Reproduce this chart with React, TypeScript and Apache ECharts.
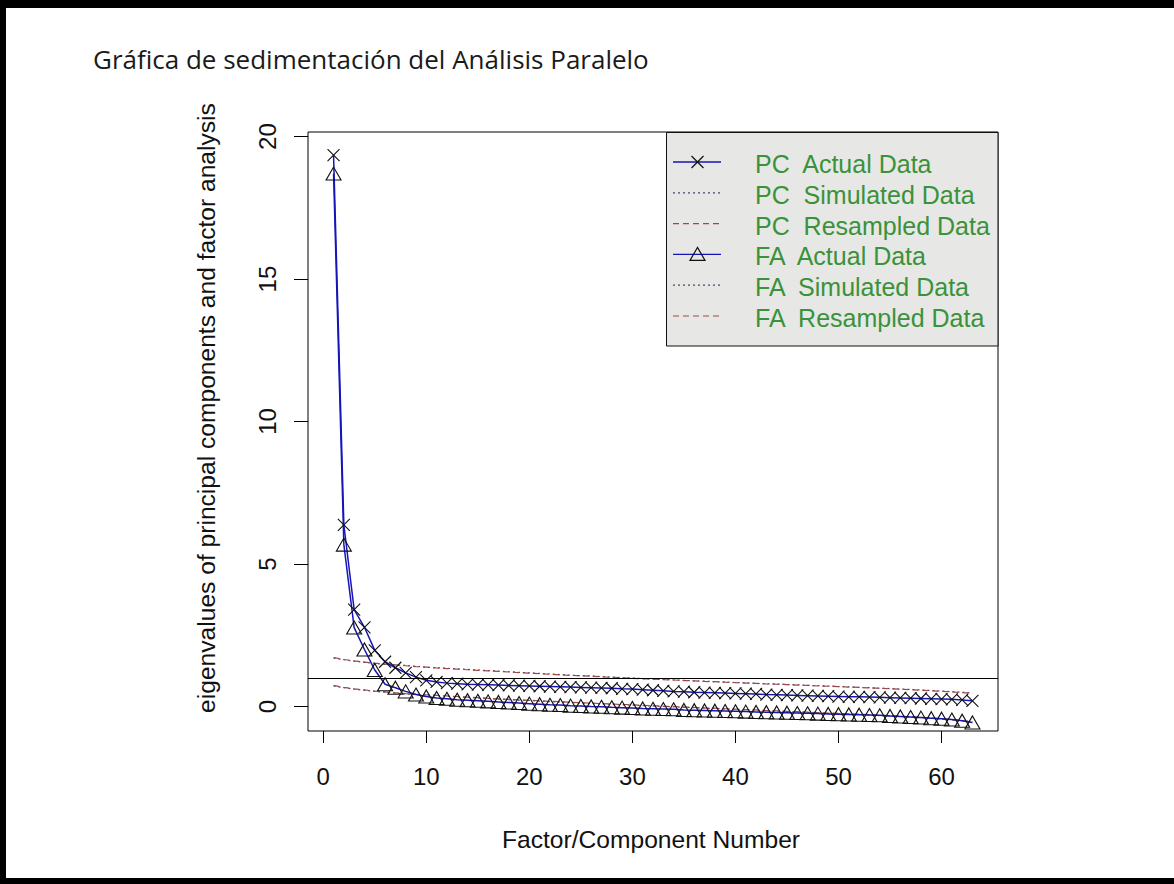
import React, { useEffect, useRef } from "react";
import * as echarts from "echarts";

// ---------- data ----------
const factorNumbers = [
  1, 2, 3, 4, 5, 6, 7, 8, 9, 10, 11, 12, 13, 14, 15, 16, 17, 18, 19, 20, 21,
  22, 23, 24, 25, 26, 27, 28, 29, 30, 31, 32, 33, 34, 35, 36, 37, 38, 39, 40,
  41, 42, 43, 44, 45, 46, 47, 48, 49, 50, 51, 52, 53, 54, 55, 56, 57, 58, 59,
  60, 61, 62, 63,
];

const pcActual = [
  19.35, 6.37, 3.4, 2.78, 1.97, 1.57, 1.36, 1.18, 1.03, 0.92, 0.86, 0.82, 0.8,
  0.78, 0.77, 0.76, 0.75, 0.74, 0.73, 0.72, 0.71, 0.7, 0.69, 0.68, 0.67, 0.66,
  0.65, 0.64, 0.62, 0.61, 0.59, 0.57, 0.55, 0.53, 0.52, 0.5, 0.49, 0.48, 0.47,
  0.46, 0.45, 0.44, 0.42, 0.41, 0.4, 0.39, 0.38, 0.37, 0.36, 0.35, 0.34, 0.34,
  0.33, 0.32, 0.31, 0.3, 0.29, 0.28, 0.27, 0.26, 0.25, 0.23, 0.2,
];

const faActual = [
  18.7, 5.68, 2.77, 2.0, 1.28, 0.78, 0.66, 0.53, 0.42, 0.35, 0.3, 0.27, 0.24,
  0.22, 0.2, 0.18, 0.16, 0.14, 0.12, 0.1, 0.08, 0.06, 0.05, 0.03, 0.02, 0.0,
  -0.01, -0.03, -0.04, -0.05, -0.07, -0.08, -0.09, -0.1, -0.12, -0.13, -0.14,
  -0.15, -0.16, -0.17, -0.18, -0.19, -0.2, -0.21, -0.22, -0.23, -0.24, -0.25,
  -0.26, -0.27, -0.28, -0.29, -0.3, -0.31, -0.33, -0.35, -0.37, -0.39, -0.41,
  -0.43, -0.46, -0.5, -0.56,
];

const pcSimulated = [
  1.7, 1.64, 1.59, 1.55, 1.51, 1.48, 1.46, 1.44, 1.41, 1.38, 1.36, 1.34, 1.32,
  1.3, 1.28, 1.26, 1.24, 1.22, 1.2, 1.18, 1.16, 1.14, 1.12, 1.1, 1.08, 1.07,
  1.05, 1.03, 1.01, 1.0, 0.98, 0.96, 0.95, 0.93, 0.92, 0.9, 0.89, 0.87, 0.86,
  0.84, 0.83, 0.81, 0.8, 0.79, 0.77, 0.76, 0.74, 0.73, 0.72, 0.7, 0.69, 0.67,
  0.66, 0.64, 0.63, 0.61, 0.6, 0.58, 0.56, 0.54, 0.52, 0.5, 0.47,
];

const pcResampled = [
  1.72, 1.65, 1.6, 1.56, 1.52, 1.49, 1.46, 1.43, 1.4, 1.38, 1.35, 1.33, 1.31,
  1.29, 1.27, 1.25, 1.23, 1.21, 1.19, 1.17, 1.15, 1.13, 1.11, 1.09, 1.08, 1.06,
  1.04, 1.02, 1.01, 0.99, 0.97, 0.96, 0.94, 0.93, 0.91, 0.9, 0.88, 0.87, 0.85,
  0.84, 0.82, 0.81, 0.79, 0.78, 0.77, 0.75, 0.74, 0.72, 0.71, 0.7, 0.68, 0.67,
  0.65, 0.64, 0.62, 0.61, 0.59, 0.57, 0.55, 0.53, 0.51, 0.49, 0.46,
];

const faSimulated = [
  0.72, 0.66, 0.61, 0.57, 0.53, 0.5, 0.47, 0.44, 0.42, 0.4, 0.38, 0.36, 0.34,
  0.32, 0.3, 0.28, 0.26, 0.24, 0.22, 0.21, 0.19, 0.17, 0.16, 0.14, 0.12, 0.11,
  0.09, 0.08, 0.06, 0.05, 0.03, 0.02, 0.0, -0.01, -0.03, -0.04, -0.06, -0.07,
  -0.09, -0.1, -0.12, -0.13, -0.15, -0.16, -0.18, -0.19, -0.21, -0.22, -0.24,
  -0.25, -0.27, -0.28, -0.3, -0.32, -0.33, -0.35, -0.37, -0.39, -0.41, -0.44,
  -0.47, -0.5, -0.55,
];

const faResampled = [
  0.74, 0.67, 0.62, 0.58, 0.54, 0.51, 0.48, 0.45, 0.43, 0.41, 0.39, 0.37, 0.35,
  0.33, 0.31, 0.29, 0.27, 0.25, 0.23, 0.22, 0.2, 0.18, 0.17, 0.15, 0.13, 0.12,
  0.1, 0.09, 0.07, 0.06, 0.04, 0.03, 0.01, 0.0, -0.02, -0.03, -0.05, -0.06,
  -0.08, -0.09, -0.11, -0.12, -0.14, -0.15, -0.17, -0.18, -0.2, -0.21, -0.23,
  -0.24, -0.26, -0.27, -0.29, -0.31, -0.32, -0.34, -0.36, -0.38, -0.4, -0.43,
  -0.46, -0.49, -0.54,
];

const xTicks = [0, 10, 20, 30, 40, 50, 60];
const yTicks = [0, 5, 10, 15, 20];
const referenceLine = 1;

const legendLabels = [
  "PC  Actual Data",
  "PC  Simulated Data",
  "PC  Resampled Data",
  "FA  Actual Data",
  "FA  Simulated Data",
  "FA  Resampled Data",
];

const chartTitle = "Gráfica de sedimentación del Análisis Paralelo";
const xAxisTitle = "Factor/Component Number";
const yAxisTitle = "eigenvalues of principal components and factor analysis";

// ---------- styles ----------
const BLUE = "#1515b8";
const DOT_COLOR = "#50406a";
const DASH_COLOR = "#a04848";
const LEGEND_TEXT = "#3a923a";
const FONT = "'Liberation Sans', Arial, sans-serif";
const CROSS = "path://M0,0L10,10M10,0L0,10";
const TRI = "path://M5,0L10,8.7L0,8.7Z";

const pairs = (vals: number[]) => vals.map((v, i) => [factorNumbers[i], v]);

export default function App() {
  const ref = useRef<HTMLDivElement>(null);

  useEffect(() => {
    if (!ref.current) return;
    const chart = echarts.init(ref.current, undefined, { renderer: "svg" });

    const legendTop = 162;
    const legendStep = 30.8;
    const legendGraphics: any[] = [
      {
        type: "rect",
        shape: { x: 666.5, y: 132.5, width: 331.5, height: 213.5 },
        style: { fill: "#e7e7e5", stroke: "#111", lineWidth: 1 },
        z: 10,
      },
    ];
    legendLabels.forEach((label, i) => {
      const y = legendTop + i * legendStep;
      const kind = i % 3;
      let dash: any = null;
      let color = BLUE;
      if (kind === 1) {
        dash = [2, 3];
        color = DOT_COLOR;
      } else if (kind === 2) {
        dash = [6, 4];
        color = DASH_COLOR;
      }
      legendGraphics.push({
        type: "line",
        shape: { x1: 673, y1: y, x2: 721, y2: y },
        style: { stroke: color, lineWidth: kind === 0 ? 1.4 : 1.2, lineDash: dash },
        z: 11,
      });
      if (i === 0) {
        legendGraphics.push(
          { type: "line", shape: { x1: 691.5, y1: y - 6, x2: 703.5, y2: y + 6 }, style: { stroke: "#111", lineWidth: 1.2 }, z: 12 },
          { type: "line", shape: { x1: 703.5, y1: y - 6, x2: 691.5, y2: y + 6 }, style: { stroke: "#111", lineWidth: 1.2 }, z: 12 }
        );
      }
      if (i === 3) {
        legendGraphics.push({
          type: "polygon",
          shape: { points: [[697.5, y - 7], [705, y + 6], [690, y + 6]] },
          style: { fill: "rgba(0,0,0,0)", stroke: "#111", lineWidth: 1.2 },
          z: 12,
        });
      }
      legendGraphics.push({
        type: "text",
        x: 755,
        y: y + 2,
        style: {
          text: label,
          fill: LEGEND_TEXT,
          font: `25px ${FONT}`,
          textAlign: "left",
          textVerticalAlign: "middle",
        },
        z: 12,
      });
    });

    const lineSeries = (
      name: string,
      vals: number[],
      color: string,
      type: any,
      width: number,
      z: number
    ) => ({
      type: "line",
      name,
      data: pairs(vals),
      showSymbol: false,
      symbol: "none",
      lineStyle: { color, type, width },
      emphasis: { disabled: true },
      silent: true,
      z,
    });

    const option: any = {
      animation: false,
      backgroundColor: "#ffffff",
      grid: {
        left: 308,
        top: 132,
        width: 690,
        height: 599,
        show: true,
        borderColor: "#000",
        borderWidth: 1,
        backgroundColor: "rgba(0,0,0,0)",
        containLabel: false,
        outerBoundsMode: "none",
      },
      xAxis: {
        type: "value",
        min: -1.48,
        max: 65.48,
        axisLine: { show: false, onZero: false },
        splitLine: { show: false },
        axisTick: {
          show: true,
          inside: false,
          length: 12,
          lineStyle: { color: "#000", width: 1 },
          customValues: xTicks,
        },
        axisLabel: {
          customValues: xTicks,
          margin: 33,
          fontSize: 24,
          fontFamily: FONT,
          color: "#111",
        },
      },
      yAxis: {
        type: "value",
        min: -0.86,
        max: 20.16,
        axisLine: { show: false, onZero: false },
        splitLine: { show: false },
        axisTick: {
          show: true,
          inside: false,
          length: 14,
          lineStyle: { color: "#000", width: 1 },
          customValues: yTicks,
        },
        axisLabel: {
          customValues: yTicks,
          rotate: 90,
          margin: 29,
          fontSize: 24,
          fontFamily: FONT,
          color: "#111",
        },
      },
      series: [
        lineSeries("PC Simulated Data", pcSimulated, DOT_COLOR, [2, 3], 1.2, 2),
        lineSeries("PC Resampled Data", pcResampled, DASH_COLOR, [6, 4], 1.2, 2),
        lineSeries("FA Simulated Data", faSimulated, DOT_COLOR, [2, 3], 1.2, 2),
        lineSeries("FA Resampled Data", faResampled, DASH_COLOR, [6, 4], 1.2, 2),
        {
          type: "line",
          name: "PC Actual Data",
          data: pairs(pcActual),
          symbol: CROSS,
          symbolSize: 12,
          showSymbol: true,
          lineStyle: { color: BLUE, width: 1.5 },
          itemStyle: { color: "rgba(0,0,0,0)", borderColor: "#111", borderWidth: 1.1 },
          emphasis: { disabled: true },
          silent: true,
          z: 4,
          markLine: {
            silent: true,
            symbol: "none",
            label: { show: false },
            lineStyle: { color: "#000", type: "solid", width: 1.2 },
            data: [{ yAxis: referenceLine }],
          },
        },
        {
          type: "line",
          name: "FA Actual Data",
          data: pairs(faActual),
          symbol: TRI,
          symbolSize: [15, 13],
          showSymbol: true,
          lineStyle: { color: BLUE, width: 1.5 },
          itemStyle: { color: "rgba(0,0,0,0)", borderColor: "#111", borderWidth: 1.1 },
          emphasis: { disabled: true },
          silent: true,
          z: 4,
        },
      ],
      graphic: [
        { type: "rect", shape: { x: 0, y: 0, width: 1174, height: 8 }, style: { fill: "#000" }, z: 20 },
        { type: "rect", shape: { x: 0, y: 0, width: 6, height: 884 }, style: { fill: "#000" }, z: 20 },
        { type: "rect", shape: { x: 0, y: 878, width: 1174, height: 6 }, style: { fill: "#000" }, z: 20 },
        {
          type: "text",
          x: 93,
          y: 59,
          style: {
            text: chartTitle,
            fill: "#1a1a1a",
            font: "26px 'Open Sans', sans-serif",
            textAlign: "left",
            textVerticalAlign: "middle",
          },
          z: 20,
        },
        {
          type: "text",
          x: 651,
          y: 839,
          style: {
            text: xAxisTitle,
            fill: "#111",
            font: `24.6px ${FONT}`,
            textAlign: "center",
            textVerticalAlign: "middle",
          },
          z: 20,
        },
        {
          type: "text",
          x: 206,
          y: 408,
          rotation: Math.PI / 2,
          style: {
            text: yAxisTitle,
            fill: "#111",
            font: `24.6px ${FONT}`,
            textAlign: "center",
            textVerticalAlign: "middle",
          },
          z: 20,
        },
        ...legendGraphics,
      ],
    };

    chart.setOption(option);
    return () => chart.dispose();
  }, []);

  return (
    <div
      ref={ref}
      style={{
        position: "absolute",
        left: 0,
        top: 0,
        width: 1174,
        height: 884,
        background: "#fff",
      }}
    />
  );
}
